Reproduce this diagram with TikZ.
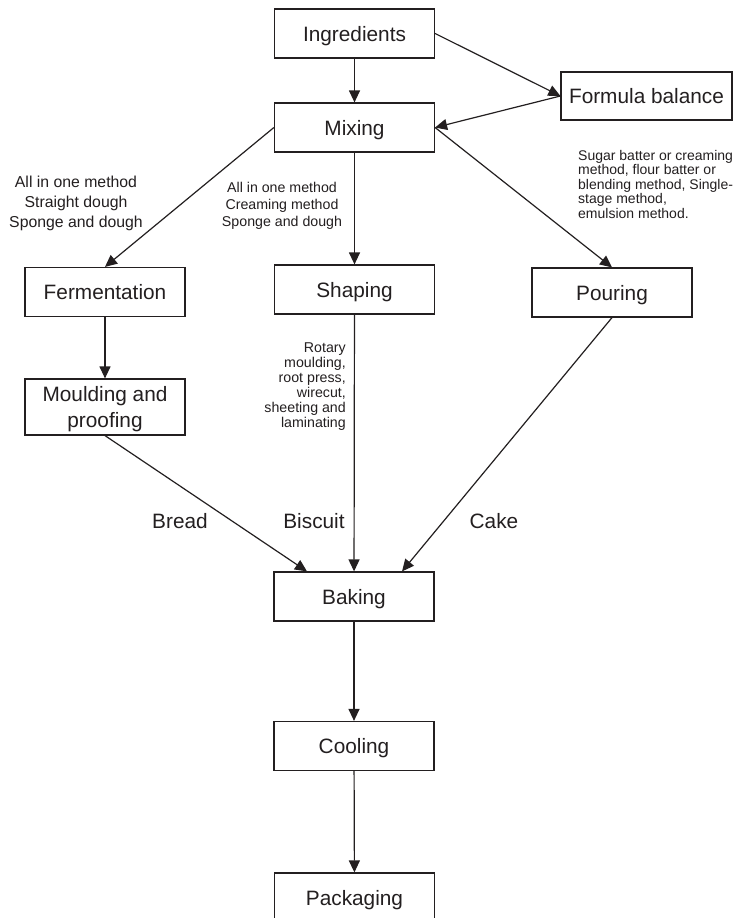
\documentclass[tikz,border=0pt]{standalone}
\usepackage{fontspec}
\setmainfont{Liberation Sans}
\usetikzlibrary{arrows.meta,calc}
\definecolor{ink}{HTML}{231F20}
\begin{document}
\begin{tikzpicture}[x=1pt,y=-1pt,
  stage/.style={draw=ink,line width=1.2pt,rectangle,minimum width=160pt,minimum height=49pt,
    inner sep=0pt,text depth=0pt,text=ink,font=\fontsize{20.8}{25.5}\selectfont,align=center},
  flow/.style={draw=ink,line width=1.2pt,-{Triangle[length=12pt,width=11pt]}},
  note/.style={text=ink,inner sep=0pt},
  bignote/.style={text=ink,inner sep=0pt,font=\fontsize{20.8}{24}\selectfont}]
\useasboundingbox (0,0) rectangle (736,918);
\clip (0,0) rectangle (736,918);
\fill[white] (0,0) rectangle (736,918);

% process stages
\node[stage] (ing) at (354.5,33.5) {Ingredients};
\node[stage,minimum width=171pt,minimum height=48pt] (fb) at (646.5,96) {Formula balance};
\node[stage] (mix) at (354.5,127.5) {Mixing};
\node[stage] (fer) at (105,292) {Fermentation};
\node[stage] (sha) at (354.5,289.5) {Shaping};
\node[stage] (pou) at (612,292.5) {Pouring};
\node[stage,minimum height=56pt] (mou) at (105,407) {Moulding and\\proofing};
\node[stage] (bak) at (354,596.5) {Baking};
\node[stage] (coo) at (354,746) {Cooling};
\node[stage] (pac) at (354.5,897.5) {Packaging};

% connectors
\draw[flow] (ing) -- (mix);
\draw[flow] (ing.east) -- (fb.west);
\draw[flow] (fb.west) -- (mix.east);
\draw[flow] (mix.west) -- (fer.north);
\draw[flow] (mix) -- (sha);
\draw[flow] (mix.east) -- (pou.north);
\draw[flow] (fer) -- (mou);
\draw[flow] (mou.south) -- ($(bak.north)+(-47,0)$);
\draw[flow] (sha) -- (bak);
\draw[flow] (pou.south) -- ($(bak.north)+(48,0)$);
\draw[flow] (bak) -- (coo);
\draw[flow] (coo) -- (pac);

% method notes
\node[note,align=center,font=\fontsize{15.8}{20}\selectfont] (bread methods) at (76,203)
  {All in one method\\Straight dough\\Sponge and dough};
\node[note,align=center,font=\fontsize{14.2}{17}\selectfont] (biscuit methods) at (282,206)
  {All in one method\\Creaming method\\Sponge and dough};
\node[note,align=left,anchor=west,font=\fontsize{14}{14.5}\selectfont] (cake methods) at (578,184)
  {Sugar batter or creaming\\method, flour batter or\\blending method, Single-\\stage method,\\emulsion method.};
\node[note,align=right,anchor=east,font=\fontsize{14.2}{15}\selectfont] (shaping methods) at (346,387)
  {Rotary\\moulding,\\root press,\\wirecut,\\sheeting and\\laminating};

% product labels
\node[bignote] (bread) at (180,521) {Bread};
\node[bignote] (biscuit) at (314,521) {Biscuit};
\node[bignote] (cake) at (494,521) {Cake};
\end{tikzpicture}
\end{document}
